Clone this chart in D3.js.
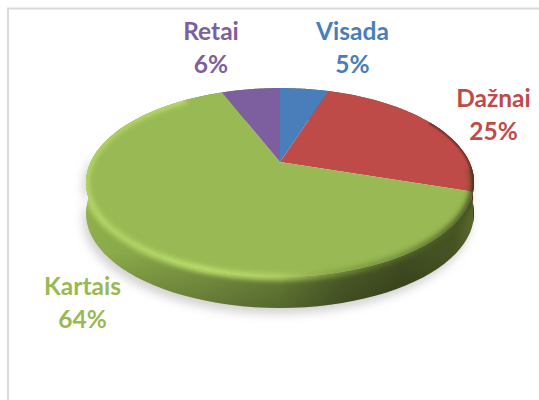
<!DOCTYPE html>
<html><head><meta charset="utf-8">
<script src="https://cdn.jsdelivr.net/npm/d3@7/dist/d3.min.js"></script>
<style>html,body{margin:0;padding:0;background:#fff}svg{display:block}</style>
</head><body><svg id="c" width="539" height="400"></svg>
<script>
const categories = ["Visada","Dažnai","Kartais","Retai"];
const values = [5,25,64,6];
const topColors = ["#4a7ebb","#be4b48","#98b954","#7d5fa0"];
const labelX = [352.5,493.5,82.5,211];
const labelY = [40,107,295,40];

const svg = d3.select("#c");
const W=539,H=400;
const cx=280, cy=162, k=0.217, a=90, b=189.4, depth=31;
const proj = ang => { const u=Math.sin(ang), v=Math.cos(ang), d=1+k*v;
  return [cx+b*u/d, cy-a*v/d]; };
const pie = d3.pie().sort(null).value(d=>d)(values);
const line = d3.line();
const samples = (s,e,n=90)=>d3.range(n+1).map(i=>s+(e-s)*i/n);
const wedge = p => line([[cx,cy],...samples(p.startAngle,p.endAngle).map(proj)])+"Z";
const full = line(samples(0,2*Math.PI,240).map(proj))+"Z";
const sidePath = (s,e,dy=depth)=>{const pts=samples(s,e,120).map(proj);
  return line([...pts,...pts.slice().reverse().map(([x,y])=>[x,y+dy])])+"Z";};

const defs = svg.append("defs");
const blur=(id,s)=>defs.append("filter").attr("id",id).attr("x","-20%").attr("y","-30%").attr("width","140%").attr("height","160%")
  .append("feGaussianBlur").attr("stdDeviation",s);
blur("sh",5); blur("b1",2.6); blur("b2",1.2); blur("b3",0.5);
const grad=(id,stops)=>{const g=defs.append("linearGradient").attr("id",id).attr("gradientUnits","userSpaceOnUse")
  .attr("x1",86).attr("x2",474).attr("y1",0).attr("y2",0);
  stops.forEach(([o,c,op])=>g.append("stop").attr("offset",o).attr("stop-color",c).attr("stop-opacity",op===undefined?1:op));};
grad("side",[[0,"#8fae4c"],[0.1,"#89a849"],[0.3,"#7f9a44"],[0.5,"#6d853a"],[0.66,"#50612a"],[0.82,"#414d21"],[0.95,"#465424"],[1,"#5a6b2d"]]);
grad("rim",[[0,"#b4d766"],[0.1,"#b4d766",0.9],[0.3,"#bce06c"],[0.5,"#b0d062"],[0.62,"#8aa648",0.8],[0.8,"#5f7530",0.6],[1,"#3f4c20",0.9]]);
const shade=defs.append("linearGradient").attr("id","wallShade").attr("x1",0).attr("x2",0).attr("y1",0).attr("y2",1);
shade.append("stop").attr("offset",0.75).attr("stop-color","#000").attr("stop-opacity",0);
shade.append("stop").attr("offset",1).attr("stop-color","#000").attr("stop-opacity",0.22);
defs.append("clipPath").attr("id","bodyClip").append("path")
  .attr("d",full+sidePath(0,2*Math.PI));

// frame
svg.append("rect").attr("x",8).attr("y",8.5).attr("width",W+20).attr("height",H+20)
  .attr("fill","#fff").attr("stroke","#d9d9d9").attr("stroke-width",2);

// shadow
svg.append("path").attr("d",sidePath(Math.PI/2-0.1,3*Math.PI/2+0.1,depth+3)).attr("transform","translate(-3,3)")
  .attr("fill","#b5b5b5").attr("opacity",0.6).attr("filter","url(#sh)");

// side walls
svg.append("path").attr("d",sidePath(0,2*Math.PI)).attr("fill","url(#side)");
svg.append("path").attr("d",sidePath(0,2*Math.PI)).attr("fill","url(#wallShade)");
const red=pie[1], green=pie[2];
svg.append("path").attr("d",sidePath(Math.PI/2-0.1,red.endAngle)).attr("fill","#6a2523");

// top face
svg.selectAll("path.slice").data(pie).join("path").attr("class","slice")
  .attr("d",wedge).attr("fill",(d,i)=>topColors[i]);

// bevel, straddling the top edge so that the face rounds into the wall
const rimG = svg.append("g").attr("clip-path","url(#bodyClip)");
rimG.append("path").attr("d",line(samples(green.startAngle-0.25,green.endAngle-0.25,180).map(proj)).replace(/^M/,"M"))
  .attr("fill","none").attr("stroke","url(#rim)").attr("stroke-width",7).attr("filter","url(#b1)");
rimG.append("path").attr("d",line(samples(red.startAngle+0.75,red.endAngle,60).map(proj)))
  .attr("fill","none").attr("stroke","#5a1f1e").attr("stroke-width",2.5).attr("filter","url(#b2)");

// labels
const lab = svg.selectAll("g.lab").data(categories).join("g").attr("class","lab")
  .attr("fill",(d,i)=>topColors[i]).attr("text-anchor","middle")
  .style("font-family","Lato, 'Open Sans', sans-serif").style("font-weight","700").style("font-size","24.5px");
lab.append("text").attr("x",(d,i)=>labelX[i]).attr("y",(d,i)=>labelY[i]).text(d=>d);
lab.append("text").attr("x",(d,i)=>labelX[i]).attr("y",(d,i)=>labelY[i]+33).text((d,i)=>values[i]+"%");
</script></body></html>
